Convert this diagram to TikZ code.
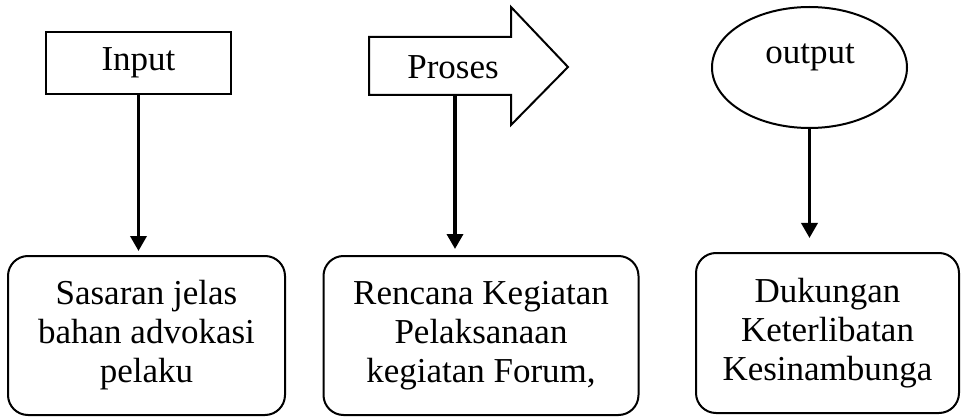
\documentclass[tikz,border=0pt]{standalone}
\usepackage{fontspec}
\setmainfont{Liberation Serif}
\usetikzlibrary{arrows.meta,shapes.geometric}
\begin{document}
\begin{tikzpicture}[x=1pt,y=-1pt,
  txt/.style={font=\fontsize{35}{39}\selectfont, align=center},
  rbox/.style={draw, line width=2pt, rounded corners=20pt, inner sep=0pt, txt},
  conn/.style={line width=3.5pt, -{Triangle[width=16pt,length=15pt]}}]
\useasboundingbox (0,0) rectangle (962,417);
% top shapes
\node[draw, line width=2pt, minimum width=185pt, minimum height=62pt, inner sep=0pt, txt] (in) at (138.5,63) {Input};
\draw[line width=2pt, line join=miter] (369,37) -- (511,37) -- (511,7) -- (568,67) -- (511,125) -- (511,95) -- (369,95) -- cycle;
\node[txt] (pr) at (453,67) {Proses};
\coordinate (prb) at (455,95);
\node[draw, ellipse, line width=2pt, minimum width=195pt, minimum height=121pt, inner sep=0pt] (out) at (809.5,67.5) {};
\node[txt] (outt) at (810,57) {output};
% bottom boxes
\node[rbox, minimum width=277pt, minimum height=159pt] (b1) at (146.5,335.5) {Sasaran jelas\\bahan advokasi\\pelaku};
\node[rbox, minimum width=315pt, minimum height=159pt] (b2) at (481,335.5) {Rencana Kegiatan\\Pelaksanaan\\kegiatan Forum,};
\node[rbox, minimum width=263pt, minimum height=160pt] (b3) at (827.5,333) {Dukungan\\Keterlibatan\\Kesinambunga};
% connectors
\draw[conn, shorten >=4pt] (in.south) -- (in.south |- b1.north);
\draw[conn, shorten >=6pt] (prb) -- (prb |- b2.north);
\draw[conn, shorten >=14pt] (out.south) -- (out.south |- b3.north);
\end{tikzpicture}
\end{document}
